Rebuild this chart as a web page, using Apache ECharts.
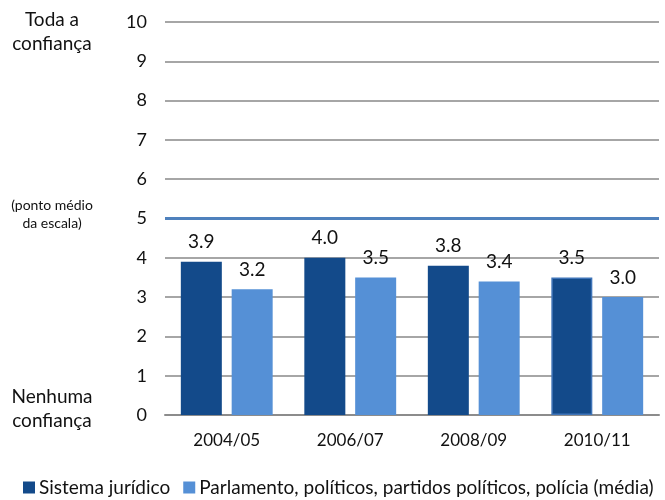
<!DOCTYPE html>
<html>
<head>
<meta charset="utf-8">
<script src="https://cdn.jsdelivr.net/npm/echarts@6/dist/echarts.min.js"></script>
<style>
  html, body { margin: 0; padding: 0; background: #fff; }
  #chart { width: 665px; height: 500px; }
</style>
</head>
<body>
<div id="chart"></div>
<script>
// Confidence scale (0 = none, 10 = full), by survey round
const periods = ['2004/05', '2006/07', '2008/09', '2010/11'];
const seriesNames = ['Sistema jurídico', 'Parlamento, políticos, partidos políticos, polícia (média)'];
const legal = [3.9, 4.0, 3.8, 3.5];
const politicalAvg = [3.2, 3.5, 3.4, 3.0];
const midpoint = 5;

const DARK = '#134a8a';
const LIGHT = '#5590d6';
const FONT = 'Lato, "Noto Sans", sans-serif';

const chart = echarts.init(document.getElementById('chart'), null, { renderer: 'canvas' });

const labelStyle = {
  show: true,
  position: 'top',
  distance: 10,
  color: '#111',
  fontSize: 19,
  fontFamily: FONT,
  formatter: p => p.value.toFixed(1)
};

chart.setOption({
  animation: false,
  textStyle: { fontFamily: FONT },
  grid: { left: 165, right: 6, top: 22, bottom: 85, containLabel: false },
  legend: {
    bottom: 3,
    left: 23,
    width: 660,
    padding: 0,
    itemWidth: 12,
    itemHeight: 12,
    itemGap: 13,
    icon: 'rect',
    textStyle: { fontSize: 19, color: '#111', fontFamily: FONT, padding: [0, 0, 0, -1] },
    data: seriesNames
  },
  xAxis: {
    type: 'category',
    data: periods,
    axisLine: { show: true, lineStyle: { color: '#8c8c8c', width: 2 } },
    axisTick: { show: false },
    axisLabel: { color: '#111', fontSize: 17, margin: 17, fontFamily: FONT }
  },
  yAxis: {
    type: 'value',
    min: 0,
    max: 10,
    interval: 1,
    axisLine: { show: false },
    axisTick: { show: false },
    axisLabel: { color: '#111', fontSize: 18, margin: 18, fontFamily: FONT },
    splitLine: { lineStyle: { color: '#a6a6a6', width: 2 } }
  },
  series: [
    {
      name: seriesNames[0],
      type: 'bar',
      barWidth: 41,
      barGap: '24%',
      itemStyle: { color: DARK },
      data: legal.map((v, i) => i === legal.length - 1
        ? { value: v, itemStyle: { borderColor: '#3f74b8', borderWidth: 1.5 } }
        : v),
      label: labelStyle,
      markLine: {
        silent: true,
        symbol: 'none',
        label: { show: false },
        lineStyle: { color: '#4f81bd', width: 3, type: 'solid' },
        data: [{ yAxis: midpoint }]
      },
      z: 3
    },
    {
      name: seriesNames[1],
      type: 'bar',
      barWidth: 41,
      itemStyle: { color: LIGHT },
      data: politicalAvg,
      label: labelStyle,
      z: 3
    }
  ],
  graphic: [
    {
      type: 'text', style: {
        text: 'Toda a\nconfiança', x: 52, y: 8, align: 'center', fill: '#111',
        font: '19px ' + FONT, lineHeight: 24
      }
    },
    {
      type: 'text', style: {
        text: '(ponto médio\nda escala)', x: 52, y: 196, align: 'center', fill: '#111',
        font: '14px ' + FONT, lineHeight: 18
      }
    },
    {
      type: 'text', style: {
        text: 'Nenhuma\nconfiança', x: 52, y: 385, align: 'center', fill: '#111',
        font: '19px ' + FONT, lineHeight: 24
      }
    }
  ]
});
</script>
</body>
</html>
